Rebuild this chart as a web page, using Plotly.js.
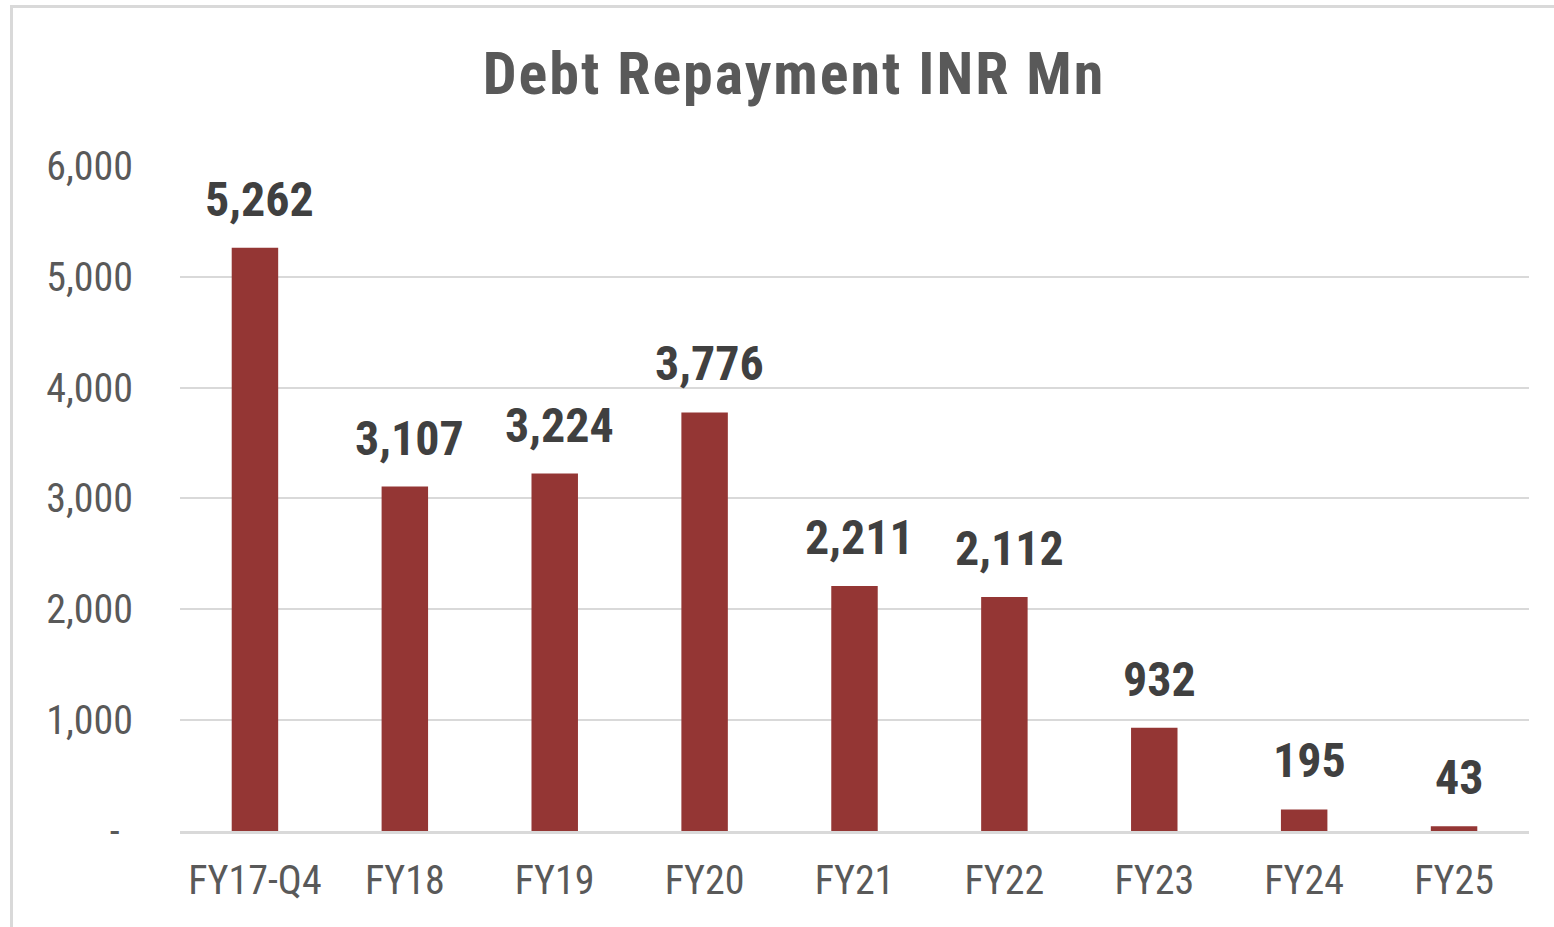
<!DOCTYPE html>
<html>
<head>
<meta charset="utf-8">
<script src="https://cdn.plot.ly/plotly-3.0.1.min.js"></script>
<style>
  html, body { margin: 0; padding: 0; overflow: hidden; background: #ffffff; }
  #chart { position: absolute; left: 0; top: 0; width: 1554px; height: 927px; }
  #frame { position: absolute; left: 10px; top: 5px; width: 2000px; height: 2000px;
           border: 3px solid #d9d9d9; pointer-events: none; }
  #chart .gtitle { letter-spacing: 2px; }
</style>
</head>
<body>
<div id="chart"></div>
<div id="frame"></div>
<script>
const categories = ["FY17-Q4", "FY18", "FY19", "FY20", "FY21", "FY22", "FY23", "FY24", "FY25"];
const repayment = [5262, 3107, 3224, 3776, 2211, 2112, 932, 195, 43];
const yTickVals = [0, 1000, 2000, 3000, 4000, 5000, 6000];
const yTickText = ["-\u00a0\u200a", "1,000", "2,000", "3,000", "4,000", "5,000", "6,000"];

const FONT = "'Roboto Condensed', 'Liberation Sans Narrow', 'Arial Narrow', 'DejaVu Sans Condensed', sans-serif";

const trace = {
  type: "bar",
  x: categories,
  y: repayment,
  marker: { color: "#943634" },
  hoverinfo: "x+y"
};

const annotations = categories.map((c, i) => ({
  x: c, y: repayment[i], xref: "x", yref: "y",
  text: repayment[i].toLocaleString("en-US"),
  showarrow: false, yanchor: "bottom", xanchor: "center",
  yshift: 18, xshift: 5,
  font: { family: FONT, size: 48, color: "#404040", weight: "bold" }
}));

const layout = {
  width: 1554, height: 927,
  paper_bgcolor: "#ffffff", plot_bgcolor: "#ffffff",
  margin: { l: 180, r: 25, t: 165, b: 96 },
  bargap: 0.69,
  showlegend: false,
  title: {
    text: "<b>Debt Repayment INR Mn</b>",
    x: 794 / 1554, xref: "container", xanchor: "center",
    y: 1 - 73.4 / 927, yref: "container", yanchor: "middle",
    font: { family: FONT, size: 60, color: "#595959" }
  },
  xaxis: {
    type: "category",
    showgrid: false,
    showline: true, linecolor: "#d9d9d9", linewidth: 3,
    ticks: "outside", ticklen: 12, tickcolor: "rgba(0,0,0,0)",
    tickfont: { family: FONT, size: 40, color: "#595959" },
    zeroline: false
  },
  yaxis: {
    range: [0, 6008],
    tickvals: yTickVals, ticktext: yTickText,
    showgrid: true, gridcolor: "#d9d9d9", gridwidth: 2,
    zeroline: false, showline: false,
    ticks: "outside", ticklen: 38, tickcolor: "rgba(0,0,0,0)",
    tickfont: { family: FONT, size: 40, color: "#595959" }
  },
  annotations: annotations
};

Plotly.newPlot("chart", [trace], layout, { displayModeBar: false, staticPlot: true });
</script>
</body>
</html>
